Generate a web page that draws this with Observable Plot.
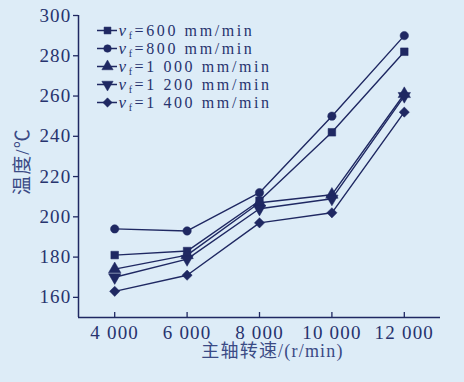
<!DOCTYPE html>
<html><head><meta charset="utf-8">
<script src="https://cdn.jsdelivr.net/npm/d3@7"></script>
<script src="https://cdn.jsdelivr.net/npm/@observablehq/plot@0.6"></script>
<style>
html,body{margin:0;padding:0;background:#ddecf7;}
#wrap{position:relative;width:464px;height:382px;overflow:hidden;background:#ddecf7;}
#legend{position:absolute;left:97px;top:20px;}
</style></head><body><div id="wrap"><div id="chart"></div><div id="legend"></div></div>
<script>
// ---- data ----
const spindleSpeeds = [4000, 6000, 8000, 10000, 12000];
const feedRates = [600, 800, 1000, 1200, 1400];
const temp600  = [181, 183, 208, 242, 282];
const temp800  = [194, 193, 212, 250, 290];
const temp1000 = [174, 181, 207, 211, 261];
const temp1200 = [170, 179, 204, 209, 260];
const temp1400 = [163, 171, 197, 202, 252];
const yTicks = [160, 180, 200, 220, 240, 260, 280, 300];
const xDomain = [3000, 13000];
const yDomain = [150, 300];
const xLabel = "主轴转速/(r/min)";
const yLabel = "温度/℃";

const series = [temp600, temp800, temp1000, temp1200, temp1400];
const navy = "#1f2862";
const textColor = "#27336e";
const font = "'Liberation Serif', 'Noto Sans CJK SC', serif";

const triDown = {draw(ctx, size){ const s3 = Math.sqrt(3); const y = -Math.sqrt(size/(s3*3)); ctx.moveTo(0, -y*2); ctx.lineTo(-s3*y, y); ctx.lineTo(s3*y, y); ctx.closePath(); }};
const symbols = ["square", "circle", "triangle", triDown, "diamond2"];
const radii = [4.3, 4.2, 4.6, 4.6, 4.6];

const fmt = n => { const s = String(n); return s.length > 3 ? s.slice(0, -3) + " " + s.slice(-3) : s; };

const rows = series.map((vals, i) => spindleSpeeds.map((sp, j) => ({speed: sp, temp: vals[j], feed: feedRates[i]})));

const marks = [];
rows.forEach((r, i) => {
  marks.push(Plot.line(r, {x: "speed", y: "temp", stroke: navy, strokeWidth: 1.4}));
});
rows.forEach((r, i) => {
  marks.push(Plot.dot(r, {x: "speed", y: "temp", symbol: symbols[i], r: radii[i], fill: navy, stroke: navy, strokeWidth: 0.5}));
});

const chart = Plot.plot({
  width: 464, height: 382,
  marginLeft: 78, marginRight: 24, marginTop: 15, marginBottom: 65,
  style: {fontFamily: font, background: "transparent", color: textColor},
  x: {domain: xDomain, axis: null},
  y: {domain: yDomain, axis: null},
  marks: [
    Plot.ruleX([xDomain[0]], {stroke: navy, strokeWidth: 1.5}),
    Plot.ruleY([yDomain[0]], {stroke: navy, strokeWidth: 1.5}),
    Plot.axisY(yTicks, {anchor: "left", tickSize: 5, tickPadding: 2, fontSize: 19, label: null, stroke: navy, strokeWidth: 1.3, fill: textColor}),
    Plot.axisX(spindleSpeeds, {anchor: "bottom", tickSize: -5, tickPadding: 13, fontSize: 19, label: null, tickFormat: fmt, stroke: navy, strokeWidth: 1.3, fill: textColor}),
    Plot.text([yLabel], {frameAnchor: "left", rotate: -90, textAnchor: "middle", lineAnchor: "middle", dx: -56, dy: -5, fontSize: 19, fill: "#3a4a85"}),
    Plot.text([xLabel], {frameAnchor: "bottom", textAnchor: "middle", lineAnchor: "middle", dx: 13, dy: 34, fontSize: 18, fill: "#3a4a85"}),
    ...marks
  ]
});
chart.querySelectorAll("text").forEach(t => t.setAttribute("letter-spacing", "1.2"));
document.getElementById("chart").append(chart);

// ---- legend ----
const legendLabels = feedRates.map(f => "=" + fmt(f) + " mm/min");
const legendMarks = [
  Plot.ruleY(legendLabels, {y: d => d, x1: () => 0, x2: () => 1, stroke: navy, strokeWidth: 1.5})
];
legendLabels.forEach((l, i) => {
  legendMarks.push(Plot.dot([l], {x: () => 0.5, y: d => d, symbol: symbols[i], r: radii[i] - 0.4, fill: navy, stroke: navy, strokeWidth: 0.5}));
});
legendMarks.push(Plot.text(legendLabels, {x: () => 1, y: d => d, dx: 1, textAnchor: "start", text: d => d, fontSize: 16, fill: textColor}));
const legend = Plot.plot({
  width: 220, height: 92, margin: 0, marginRight: 0,
  style: {fontFamily: font, background: "transparent", overflow: "visible"},
  x: {domain: [0, 1], range: [0, 20], axis: null},
  y: {type: "band", domain: legendLabels, range: [0, 92], padding: 0, axis: null},
  marks: legendMarks
});
legend.querySelectorAll("text").forEach(t => {
  const s = t.textContent;
  t.textContent = "";
  t.setAttribute("letter-spacing", "2.6");
  const ns = "http://www.w3.org/2000/svg";
  const a = document.createElementNS(ns, "tspan"); a.setAttribute("font-style", "italic"); a.setAttribute("font-size", "17"); a.textContent = "v";
  const b = document.createElementNS(ns, "tspan"); b.setAttribute("font-size", "10"); b.setAttribute("dy", "3"); b.textContent = "f";
  const c = document.createElementNS(ns, "tspan"); c.setAttribute("dy", "-3"); c.textContent = s;
  t.append(a, b, c);
});
document.getElementById("legend").append(legend);
</script></body></html>
